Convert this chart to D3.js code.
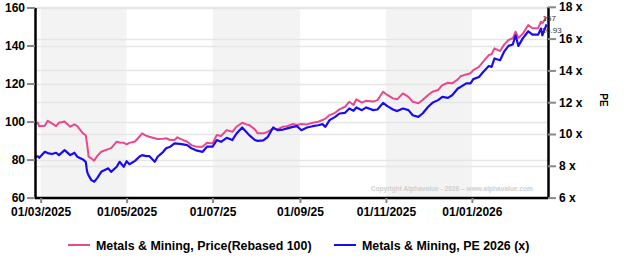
<!DOCTYPE html>
<html>
<head>
<meta charset="utf-8">
<script src="https://cdn.jsdelivr.net/npm/d3@7"></script>
<style>
  html, body { margin: 0; padding: 0; background: #fff; }
  #chart { width: 630px; height: 258px; }
  text { font-family: "Liberation Sans", Arial, sans-serif; }
</style>
</head>
<body>
<div id="chart"></div>
<script>
// Metals & Mining: price rebased to 100 (left axis) and PE 2026 (right axis)
const dates = [
  '2025-02-25', '2025-02-27', '2025-02-28', '2025-03-04', '2025-03-06', '2025-03-09', '2025-03-12', '2025-03-14',
  '2025-03-18', '2025-03-22', '2025-03-25', '2025-03-27', '2025-03-31', '2025-04-02', '2025-04-03', '2025-04-04',
  '2025-04-06', '2025-04-08', '2025-04-10', '2025-04-13', '2025-04-18', '2025-04-20', '2025-04-24', '2025-04-26',
  '2025-04-29', '2025-05-01', '2025-05-03', '2025-05-07', '2025-05-10', '2025-05-12', '2025-05-15', '2025-05-17',
  '2025-05-21', '2025-05-23', '2025-05-27', '2025-05-29', '2025-06-01', '2025-06-04', '2025-06-06', '2025-06-09',
  '2025-06-13', '2025-06-16', '2025-06-20', '2025-06-24', '2025-06-27', '2025-07-01', '2025-07-04', '2025-07-07',
  '2025-07-11', '2025-07-15', '2025-07-18', '2025-07-22', '2025-07-25', '2025-07-27', '2025-07-31', '2025-08-02',
  '2025-08-06', '2025-08-09', '2025-08-13', '2025-08-16', '2025-08-20', '2025-08-23', '2025-08-27', '2025-08-30',
  '2025-09-02', '2025-09-06', '2025-09-10', '2025-09-14', '2025-09-17', '2025-09-19', '2025-09-22', '2025-09-26',
  '2025-09-29', '2025-10-03', '2025-10-06', '2025-10-09', '2025-10-11', '2025-10-15', '2025-10-18', '2025-10-23',
  '2025-10-26', '2025-10-30', '2025-11-02', '2025-11-06', '2025-11-09', '2025-11-13', '2025-11-17', '2025-11-20',
  '2025-11-24', '2025-11-27', '2025-12-01', '2025-12-04', '2025-12-08', '2025-12-11', '2025-12-15', '2025-12-18',
  '2025-12-22', '2025-12-24', '2025-12-28', '2025-12-31', '2026-01-02', '2026-01-06', '2026-01-09', '2026-01-13',
  '2026-01-15', '2026-01-17', '2026-01-21', '2026-01-24', '2026-01-27', '2026-01-30', '2026-02-01', '2026-02-03',
  '2026-02-06', '2026-02-10', '2026-02-13', '2026-02-17', '2026-02-19', '2026-02-20', '2026-02-23'
];

const priceRebased = [
  99.0, 99.4, 97.5, 97.8, 100.4, 99.0, 97.6, 99.4,
  100.0, 97.3, 98.5, 97.6, 93.8, 92.9, 88.0, 81.5,
  80.6, 79.4, 81.8, 84.1, 85.5, 86.0, 89.4, 89.0,
  88.8, 88.0, 88.8, 89.5, 92.0, 93.8, 92.5, 92.0,
  91.2, 90.8, 91.0, 91.2, 90.3, 90.3, 91.7, 90.6,
  89.4, 87.6, 86.7, 86.7, 88.8, 88.5, 92.9, 92.4,
  95.5, 94.6, 97.3, 99.4, 98.5, 98.2, 95.9, 93.8,
  93.8, 94.6, 96.4, 95.9, 97.3, 97.6, 98.7, 98.2,
  98.7, 98.5, 99.4, 99.9, 100.8, 101.5, 103.4, 104.6,
  106.4, 107.8, 110.4, 108.7, 111.7, 110.0, 111.0, 110.5,
  111.3, 115.7, 114.0, 112.2, 111.7, 114.8, 113.0, 110.4,
  109.6, 111.3, 114.0, 115.7, 116.6, 119.2, 120.4, 120.1,
  122.2, 123.8, 124.8, 125.4, 127.1, 128.8, 131.5, 135.0,
  135.4, 138.5, 137.1, 140.6, 142.9, 143.8, 147.3, 144.0,
  146.0, 150.8, 149.1, 149.1, 152.5, 151.7, 155.0
];

const pe2026 = [
  8.55, 8.60, 8.50, 8.88, 8.80, 8.74, 8.82, 8.67,
  8.99, 8.67, 8.82, 8.57, 8.40, 8.25, 7.62, 7.40,
  7.10, 7.00, 7.21, 7.62, 7.84, 7.62, 7.94, 8.25,
  7.94, 8.29, 8.10, 8.31, 8.57, 8.67, 8.61, 8.61,
  8.25, 8.57, 8.88, 9.10, 9.20, 9.41, 9.40, 9.36,
  9.30, 9.10, 8.95, 8.88, 9.20, 9.20, 9.62, 9.51,
  9.76, 9.62, 10.03, 10.41, 10.13, 9.93, 9.62, 9.57,
  9.60, 9.80, 10.41, 10.24, 10.28, 10.35, 10.45, 10.49,
  10.24, 10.41, 10.49, 10.55, 10.62, 10.45, 10.87, 11.08,
  11.29, 11.33, 11.60, 11.46, 11.67, 11.50, 11.67, 11.50,
  11.54, 11.96, 11.75, 11.54, 11.44, 11.60, 11.50, 11.18,
  11.08, 11.29, 11.71, 11.96, 12.13, 12.33, 12.27, 12.44,
  12.86, 12.96, 13.18, 13.18, 13.45, 13.59, 13.90, 14.28,
  14.22, 14.75, 14.64, 15.20, 15.54, 15.63, 16.21, 15.54,
  16.00, 16.46, 16.25, 16.25, 16.63, 16.21, 16.90
];

const lastLabels = ['157', '16.93'];
const leftTicks = [60, 80, 100, 120, 140, 160];
const rightTicks = [6, 8, 10, 12, 14, 16, 18];
const xTickDates = ['2025-03-01', '2025-05-01', '2025-07-01', '2025-09-01', '2025-11-01', '2026-01-01'];
const xTickLabels = ['01/03/2025', '01/05/2025', '01/07/25', '01/09/25', '01/11/2025', '01/01/2026'];
const shadedBands = [['2025-03-01', '2025-05-01'], ['2025-07-01', '2025-09-01'], ['2025-11-01', '2026-01-01']];
const seriesNames = ['Metals & Mining, Price(Rebased 100)', 'Metals & Mining, PE 2026 (x)'];
const xDomain = ['2025-02-25', '2026-02-24'];

(function () {
  const W = 630, H = 258;
  const PINK = '#e8488c';
  const BLUE = '#1a0cf2';
  const parse = d3.utcParse('%Y-%m-%d');

  const data = dates.map((d, i) => ({ date: parse(d), price: priceRebased[i], pe: pe2026[i] }));

  const svg = d3.select('#chart').append('svg')
    .attr('width', W)
    .attr('height', H)
    .attr('viewBox', `0 0 ${W} ${H}`);

  const plot = { left: 35, right: 548, top: 7, bottom: 198 };

  const x = d3.scaleUtc().domain(xDomain.map(parse)).range([plot.left, plot.right]);
  const yL = d3.scaleLinear().domain([60, 160]).range([197.6, 7.5]);
  const yR = d3.scaleLinear().domain([6, 18]).range([197.6, 6.8]);

  // alternate shading
  svg.append('g').selectAll('rect')
    .data(shadedBands)
    .join('rect')
    .attr('x', d => x(parse(d[0])))
    .attr('width', d => x(parse(d[1])) - x(parse(d[0])))
    .attr('y', plot.top)
    .attr('height', plot.bottom - plot.top)
    .attr('fill', '#f3f3f3');

  // gridlines for both axes
  svg.append('g').selectAll('line')
    .data(leftTicks.map(t => yL(t)).concat(rightTicks.map(t => yR(t))))
    .join('line')
    .attr('x1', plot.left)
    .attr('x2', plot.right)
    .attr('y1', d => Math.round(d) + 0.5)
    .attr('y2', d => Math.round(d) + 0.5)
    .attr('stroke', '#e6e6e6')
    .attr('stroke-width', 1.5);

  // copyright watermark
  svg.append('text')
    .attr('x', 533)
    .attr('y', 191)
    .attr('text-anchor', 'end')
    .attr('fill', '#cfcfcf')
    .attr('font-size', '6.6px')
    .attr('font-weight', 700)
    .text('Copyright Alphavalue - 2026 \u2013 www.alphavalue.com');

  const linePrice = d3.line().x(d => x(d.date)).y(d => yL(d.price));
  const linePe = d3.line().x(d => x(d.date)).y(d => yR(d.pe));

  svg.append('path')
    .datum(data)
    .attr('d', linePrice)
    .attr('fill', 'none')
    .attr('stroke', PINK)
    .attr('stroke-width', 2)
    .attr('stroke-linejoin', 'round');

  svg.append('path')
    .datum(data)
    .attr('d', linePe)
    .attr('fill', 'none')
    .attr('stroke', BLUE)
    .attr('stroke-width', 2.2)
    .attr('stroke-linejoin', 'round');

  // axes
  const styleAxis = (g, size) => g
    .call(g => g.select('.domain').attr('stroke', '#000').attr('stroke-width', 2.5))
    .call(g => g.selectAll('.tick line').attr('stroke', '#888').attr('stroke-width', 2))
    .call(g => g.selectAll('.tick text')
      .attr('fill', '#000')
      .attr('font-size', size)
      .attr('font-weight', 700)
      .attr('font-family', '"Liberation Sans", Arial, sans-serif'));

  svg.append('g')
    .attr('transform', `translate(${plot.left},0)`)
    .call(d3.axisLeft(yL).tickValues(leftTicks).tickSize(8).tickSizeOuter(0).tickPadding(2))
    .call(g => styleAxis(g, '12px'));

  svg.append('g')
    .attr('transform', `translate(${plot.right},0)`)
    .call(d3.axisRight(yR).tickValues(rightTicks).tickSize(8).tickSizeOuter(0).tickPadding(3)
      .tickFormat(d => `${d} x`))
    .call(g => styleAxis(g, '12px'));

  svg.append('g')
    .attr('transform', `translate(0,${plot.bottom})`)
    .call(d3.axisBottom(x).tickValues(xTickDates.map(parse)).tickSize(5).tickSizeOuter(0).tickPadding(4)
      .tickFormat((d, i) => xTickLabels[i]))
    .call(g => styleAxis(g, '12px'))
    .call(g => g.select('.domain').attr('d', `M${plot.left},0H${plot.right}`));

  // end-of-series value labels, drawn over the axis line
  const last = data[data.length - 1];
  svg.append('text')
    .attr('x', x(last.date) - 4)
    .attr('y', yL(last.price) + 4)
    .attr('fill', '#333')
    .attr('font-size', '8px')
    .text(lastLabels[0]);
  svg.append('text')
    .attr('x', x(last.date) - 5)
    .attr('y', yR(last.pe) + 9)
    .attr('fill', '#333')
    .attr('font-size', '8px')
    .text(lastLabels[1]);

  svg.append('text')
    .attr('transform', 'translate(600,100) rotate(90)')
    .attr('text-anchor', 'middle')
    .attr('fill', '#000')
    .attr('font-size', '10px')
    .attr('font-weight', 700)
    .text('PE');

  // legend
  const legend = svg.append('g').attr('transform', 'translate(0,245)');
  const legendItems = [
    { name: seriesNames[0], color: PINK, x0: 68 },
    { name: seriesNames[1], color: BLUE, x0: 334 }
  ];
  legendItems.forEach(it => {
    legend.append('line')
      .attr('x1', it.x0).attr('x2', it.x0 + 22)
      .attr('y1', 0).attr('y2', 0)
      .attr('stroke', it.color)
      .attr('stroke-width', 2);
    legend.append('text')
      .attr('x', it.x0 + 28)
      .attr('y', 4.5)
      .attr('fill', '#000')
      .attr('font-size', '12.4px')
      .attr('font-weight', 700)
      .text(it.name);
  });
})();
</script>
</body>
</html>
